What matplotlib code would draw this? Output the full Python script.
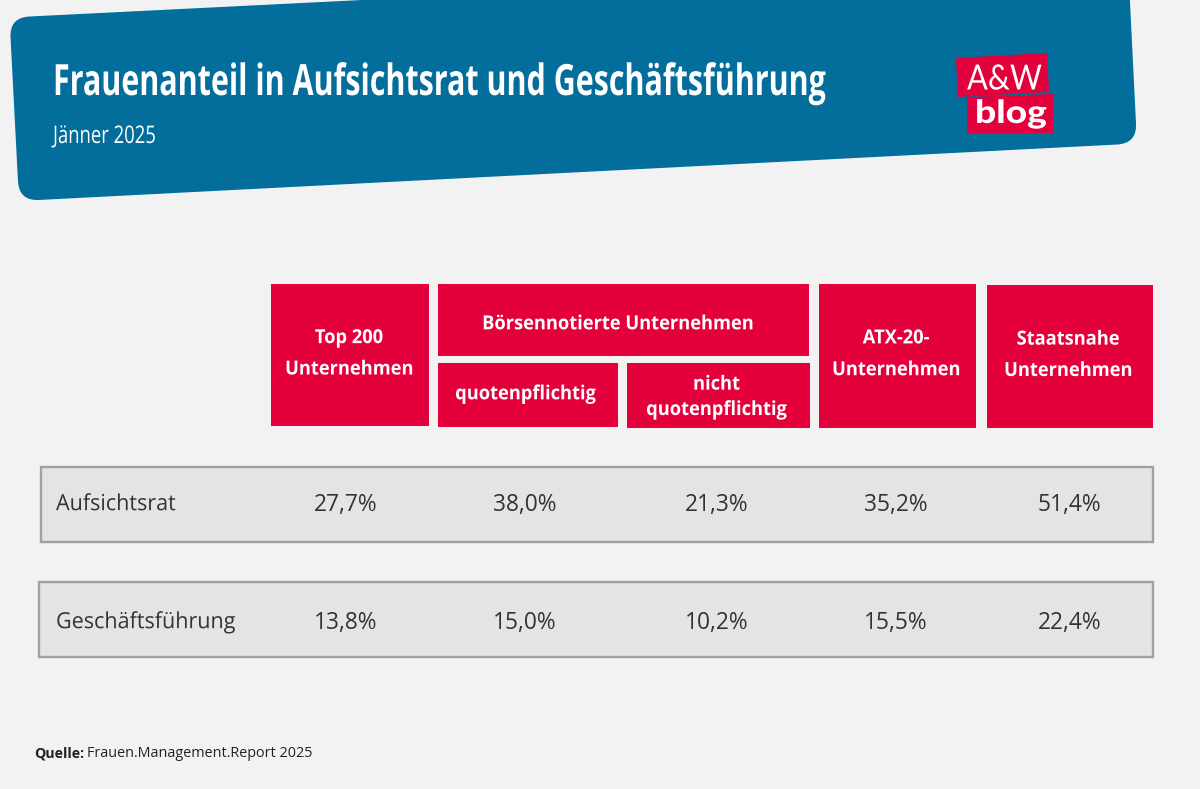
"""Frauenanteil in Aufsichtsrat und Geschaeftsfuehrung, table graphic."""
import matplotlib
matplotlib.use("Agg")
import matplotlib.pyplot as plt
from matplotlib.patches import PathPatch, Polygon, Rectangle
from matplotlib.path import Path
from matplotlib.patheffects import AbstractPathEffect
from matplotlib.transforms import Affine2D

BG = "#f2f2f2"
BLUE = "#036d9c"
RED = "#e4003a"
ROW_FILL = "#e4e4e4"
ROW_EDGE = "#a0a0a0"
DARK = "#333333"

title = "Frauenanteil in Aufsichtsrat und Geschäftsführung"
subtitle = "Jänner 2025"
source_bold = "Quelle:"
source_text = "Frauen.Management.Report 2025"

header_labels = ["Top 200\nUnternehmen", "Börsennotierte Unternehmen", "quotenpflichtig",
                 "nicht\nquotenpflichtig", "ATX-20-\nUnternehmen", "Staatsnahe\nUnternehmen"]
row_names = ["Aufsichtsrat", "Geschäftsführung"]
aufsichtsrat = ["27,7%", "38,0%", "21,3%", "35,2%", "51,4%"]
geschaeftsfuehrung = ["13,8%", "15,0%", "10,2%", "15,5%", "22,4%"]

# x0, y0, x1, y1, label x, label y, line spacing, in image pixels
header_boxes = [(271, 284, 429, 426, 349, 353.5, 1.82), (438, 284, 809, 356, 617.5, 324, 1.35),
                (438, 363, 618, 427, 525.5, 394, 1.35), (627, 363, 810, 428, 716.5, 397, 1.42),
                (819, 284, 976, 428, 896, 354, 1.85), (987, 285, 1153, 428, 1068, 355, 1.82)]
row_boxes = [(41, 467, 1153, 542), (39, 582, 1153, 657)]
row_y = [503, 621]
col_x = [345.5, 524.5, 717, 896, 1069.5]


class StretchY(AbstractPathEffect):
    # makes a text taller around y0, the fonts here have no condensed cut
    def __init__(self, y0, sy):
        super().__init__()
        self.y0 = y0
        self.sy = sy

    def draw_path(self, renderer, gc, tpath, affine, rgbFace=None):
        stretch = Affine2D().translate(0, -self.y0).scale(1, self.sy).translate(0, self.y0)
        renderer.draw_path(gc, tpath, affine + stretch, rgbFace)


def condense(ax, txt, sx=None, width=None):
    # smaller font for the width, stretched back up to the full height
    y0 = ax.transData.transform(txt.get_position())[1]
    if width is not None:
        sx = width / txt.get_window_extent(ax.figure.canvas.get_renderer()).width
    txt.set_fontsize(txt.get_fontsize() * sx)
    txt.set_path_effects([StretchY(y0, 1 / sx)])


def rounded_poly(pts, r):
    # corners rounded with a quadratic curve
    verts, codes = [], []
    n = len(pts)
    for i in range(n):
        px, py = pts[i - 1]
        cx, cy = pts[i]
        nx, ny = pts[(i + 1) % n]
        d1 = ((px - cx) ** 2 + (py - cy) ** 2) ** 0.5
        d2 = ((nx - cx) ** 2 + (ny - cy) ** 2) ** 0.5
        a = (cx + (px - cx) * r / d1, cy + (py - cy) * r / d1)
        b = (cx + (nx - cx) * r / d2, cy + (ny - cy) * r / d2)
        verts += [a, (cx, cy), b]
        codes += [Path.MOVETO if i == 0 else Path.LINETO, Path.CURVE3, Path.CURVE3]
    verts.append(verts[0])
    codes.append(Path.CLOSEPOLY)
    return Path(verts, codes)


def main():
    fig = plt.figure(figsize=(12, 7.89), dpi=100, facecolor=BG)
    ax = fig.add_axes([0, 0, 1, 1])
    ax.set_xlim(0, 1200)
    ax.set_ylim(789, 0)
    ax.axis("off")

    banner = rounded_poly([(9.5, 17.5), (1128, -38), (1137, 143.5), (19, 201)], 20)
    ax.add_patch(PathPatch(banner, fc=BLUE, ec="none"))

    t = ax.text(53, 95, title, color="white", fontsize=31, fontweight="bold", family="Open Sans",
                va="baseline", ha="left")
    condense(ax, t, width=772)
    t = ax.text(53, 143, subtitle, color="white", fontsize=17.5, family="Open Sans",
                va="baseline", ha="left")
    condense(ax, t, width=103)

    # logo
    ax.add_patch(Polygon([(956, 58), (1047, 53), (1049, 92), (958, 97)], fc=RED, ec="none"))
    ax.add_patch(Polygon([(967, 97), (1053, 94), (1053, 133), (967, 133)], fc=RED, ec="none"))
    t = ax.text(967, 89.5, "A&W", color="white", fontsize=25, family="Lato",
                va="baseline", ha="left")
    condense(ax, t, width=75)
    t = ax.text(975, 123, "blog", color="white", fontsize=23, fontweight="black", family="Lato",
                va="baseline", ha="left")
    condense(ax, t, width=72)

    for (x0, y0, x1, y1, lx, ly, spacing), label in zip(header_boxes, header_labels):
        ax.add_patch(Rectangle((x0, y0), x1 - x0, y1 - y0, fc=RED, ec="none"))
        t = ax.text(lx, ly, label, color="white", fontsize=14, fontweight="bold", family="Open Sans",
                    va="center", ha="center", linespacing=spacing)
        condense(ax, t, sx=0.94)

    for (x0, y0, x1, y1), name, yc, values in zip(row_boxes, row_names, row_y,
                                                  [aufsichtsrat, geschaeftsfuehrung]):
        ax.add_patch(Rectangle((x0, y0), x1 - x0, y1 - y0, fc=ROW_FILL, ec=ROW_EDGE, lw=1.7))
        t = ax.text(56, yc + 1.5, name, color=DARK, fontsize=16, family="Open Sans",
                    va="center", ha="left")
        condense(ax, t, sx=0.97)
        for x, val in zip(col_x, values):
            ax.text(x, yc + 1.5, val, color=DARK, fontsize=16.4, family="Open Sans",
                    va="center", ha="center")

    ax.text(34, 757, source_bold, color="#222222", fontsize=10.2, fontweight="bold", family="Open Sans",
            va="baseline", ha="left")
    ax.text(87, 757, source_text, color="#222222", fontsize=10.4, family="Open Sans",
            va="baseline", ha="left")

    fig.savefig("out.png", dpi=100, facecolor=BG)


if __name__ == "__main__":
    main()
